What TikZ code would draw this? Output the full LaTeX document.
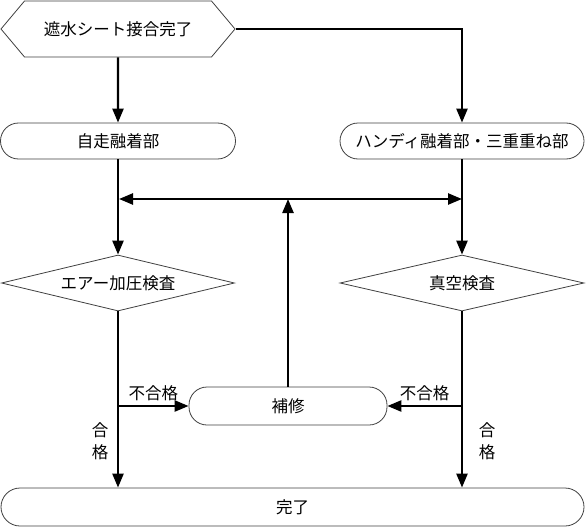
\documentclass[tikz,border=0pt]{standalone}
\usepackage{fontspec}
\setmainfont{Noto Sans CJK JP}
\usetikzlibrary{arrows.meta}
\usetikzlibrary{shapes.geometric, shapes.symbols, positioning, calc}

\begin{document}
\begin{tikzpicture}[x=1pt, y=-1pt, ->, >={Triangle[length=14pt,width=11pt]}, line width=2.4pt,
  font=\fontsize{16.5}{20}\selectfont, inner sep=0pt,
  box/.style={draw=black!75, line width=0.8pt, fill=white},
  start node/.style={box, signal, signal to=west and east, signal pointer angle=100,
    minimum width=234pt, minimum height=56pt},
  round node/.style={box, rectangle, rounded corners=18pt, minimum height=36pt},
  dec node/.style={box, diamond, aspect=4.2, minimum height=56pt}]
  \useasboundingbox (0,0) rectangle (586,527);
  \node[start node] (1) at (118,29) {遮水シート接合完了};
  \node[round node, minimum width=235pt] (2) at (118,141) {自走融着部};
  \node[round node, minimum width=244pt] (3) at (462,141) {ハンディ融着部・三重重ね部};
  \node[dec node, minimum width=233pt] (4) at (118,283) {エアー加圧検査};
  \node[dec node, minimum width=244pt] (5) at (462,283) {真空検査};
  \node[round node, minimum width=198pt, minimum height=38pt] (6) at (288,406) {補修};
  \node[round node, rounded corners=19pt, minimum width=583pt, minimum height=38pt] (7) at (292.5,507) {完了};
  \coordinate (jl) at (118,199);
  \coordinate (jr) at (462,199);
  \coordinate (jm) at (288,199);
  \coordinate (bl) at (118,406);
  \coordinate (br) at (462,406);
  \draw (1) -- (2);
  \draw (1.east) -| (3.north);
  \draw (2) -- (4);
  \draw (3) -- (5);
  \draw[<->] ($(jl)+(1,0)$) -- (jr);
  \draw (6) -- (jm);
  \draw (4) -- (7.north -| 4.south);
  \draw (5) -- (7.north -| 5.south);
  \draw (bl) -- node[above=4pt] {不合格} (6);
  \draw (br) -- node[above=4pt] {不合格} (6);
  \node[align=center, font=\fontsize{16.5}{22}\selectfont] (8) at (100,441) {合\\格};
  \node[align=center, font=\fontsize{16.5}{22}\selectfont] (9) at (487,441) {合\\格};
\end{tikzpicture}
\end{document}
